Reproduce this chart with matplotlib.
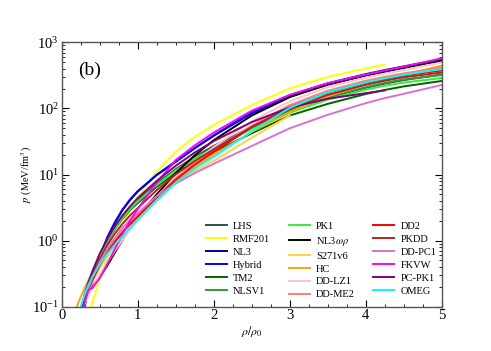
import numpy as np
import matplotlib
matplotlib.use("Agg")
import matplotlib.pyplot as plt
from matplotlib.ticker import MultipleLocator, LogLocator, NullFormatter

nan = np.nan

# density grid (rho / rho0) shared by all models
rho = [0.2, 0.25, 0.3, 0.35, 0.4, 0.5, 0.6, 0.7, 0.8, 0.9, 1.0, 1.25, 1.5, 1.75,
       2.0, 2.5, 3.0, 3.5, 4.0, 4.25, 4.5, 5.0]

# pressure in MeV/fm^3
p_lhs     = [nan, 0.09, 0.15, 0.23, 0.33, 0.62, 1.03, 1.6, 2.3, 3.15, 4.1, 7.3, 12.0, 18.5, 27, 52, 92, 145, 205, 237, 268, 325]
p_rmf201  = [nan, nan, nan, 0.07, 0.11, 0.26, 0.55, 1.02, 1.75, 2.9, 4.5, 11.0, 22.0, 37.0, 56, 112, 200, 300, 400, 460, nan, nan]
p_nl3     = [nan, 0.06, 0.10, 0.17, 0.27, 0.56, 1.1, 1.85, 2.9, 4.1, 5.5, 9.8, 15.5, 25.0, 39, 88, 158, 240, 330, 380, 432, 555]
p_hybrid  = [nan, 0.063, 0.105, 0.174, 0.275, 0.575, 1.12, 1.9, 2.95, 4.2, 5.6, 9.9, 15.8, 25.0, 38.5, 84, 151, 229, 316, 363, 417, 545]
p_tm2     = [nan, 0.08, 0.135, 0.21, 0.30, 0.57, 0.97, 1.5, 2.15, 2.9, 3.7, 6.5, 10.5, 15.5, 22, 42, 78, 117, 165, 190, 215, 260]
p_nlsv1   = [nan, 0.08, 0.135, 0.21, 0.30, 0.56, 0.95, 1.5, 2.2, 3.0, 3.9, 7.0, 11.5, 17.5, 25, 50, 90, 145, 210, 243, 275, 320]
p_pk1     = [nan, 0.085, 0.14, 0.22, 0.31, 0.58, 0.98, 1.52, 2.2, 3.0, 3.9, 6.9, 11.5, 17.5, 25, 49, 86, 136, 192, 220, 246, 288]
p_nl3wr   = [nan, 0.08, 0.13, 0.17, 0.20, 0.28, 0.42, 0.66, 1.02, 1.55, 2.25, 5.0, 10.5, 19.5, 33, 78, 148, 230, 315, 360, 410, 527]
p_s271v6  = [nan, 0.075, 0.12, 0.17, 0.23, 0.38, 0.58, 0.83, 1.13, 1.55, 2.2, 4.3, 7.6, 11.3, 16, 36, 78, nan, nan, nan, nan, nan]
p_hc      = [0.10, 0.14, 0.19, 0.25, 0.32, 0.48, 0.70, 0.98, 1.35, 1.8, 2.35, 4.4, 7.8, 12.8, 20, 44, 88, 152, 230, 275, 322, 445]
p_ddlz1   = [nan, 0.07, 0.11, 0.15, 0.19, 0.30, 0.46, 0.70, 1.02, 1.45, 2.0, 4.3, 8.6, 15.5, 26, 64, 128, 210, 292, 335, 380, 495]
p_ddme2   = [nan, 0.07, 0.115, 0.17, 0.24, 0.42, 0.66, 0.97, 1.36, 1.83, 2.4, 4.7, 8.8, 15.0, 24, 55, 112, 185, 262, 300, 338, 416]
p_dd2     = [nan, 0.075, 0.12, 0.18, 0.25, 0.43, 0.66, 0.96, 1.33, 1.78, 2.3, 4.5, 8.3, 14.0, 22, 52, 104, 172, 245, 280, 315, 374]
p_pkdd    = [nan, 0.085, 0.14, 0.21, 0.29, 0.52, 0.85, 1.28, 1.8, 2.4, 3.1, 5.8, 10.0, 16.0, 24, 52, 98, 160, 228, 262, 296, 349]
p_ddpc1   = [nan, 0.08, 0.13, 0.19, 0.27, 0.47, 0.75, 1.1, 1.55, 2.05, 2.6, 4.7, 7.3, 10.5, 14.5, 27, 50, 80, 120, 143, 166, 226]
p_fkvw    = [nan, 0.06, 0.12, 0.18, 0.19, 0.27, 0.44, 0.75, 1.25, 2.0, 3.0, 7.5, 16.5, 27.5, 43, 92, 160, 240, 325, 375, 428, 573]
p_pcpk1   = [nan, 0.085, 0.145, 0.23, 0.33, 0.63, 1.05, 1.65, 2.4, 3.3, 4.4, 8.0, 13.5, 21.5, 32, 62, 103, 140, 170, 187, nan, nan]
p_omeg    = [0.065, 0.10, 0.15, 0.21, 0.28, 0.44, 0.63, 0.87, 1.15, 1.55, 2.05, 4.0, 7.5, 12.2, 18.5, 45, 102, 175, 248, 285, 322, 394]

labels = ['LHS', 'RMF201', 'NL3', 'Hybrid', 'TM2', 'NLSV1',
          'PK1', r'NL3$\omega\rho$', 'S271v6', 'HC', 'DD-LZ1', 'DD-ME2',
          'DD2', 'PKDD', 'DD-PC1', 'FKVW', 'PC-PK1', 'OMEG']
colors = ['#2f4f4f', '#ffff00', '#00008b', '#0000ff', '#006400', '#339933',
          '#33ee33', '#000000', '#ffd23f', '#ffa500', '#ffc0cb', '#fa8072',
          '#ff0000', '#b22222', '#da70d6', '#ff00ff', '#800080', '#00ffff']
pressures = [p_lhs, p_rmf201, p_nl3, p_hybrid, p_tm2, p_nlsv1,
             p_pk1, p_nl3wr, p_s271v6, p_hc, p_ddlz1, p_ddme2,
             p_dd2, p_pkdd, p_ddpc1, p_fkvw, p_pcpk1, p_omeg]

plt.rcParams['font.family'] = ['Liberation Serif', 'DejaVu Serif']
plt.rcParams['mathtext.fontset'] = 'stix'

fig = plt.figure(figsize=(4.91, 3.51), dpi=100)
ax = fig.add_axes([61.7 / 491, 1 - 306.7 / 351, 380 / 491, 264.4 / 351])

for lab, col, p in zip(labels, colors, pressures):
    ax.plot(rho, p, color=col, lw=1.4, label=lab)

ax.set_yscale('log')
ax.set_xlim(0, 5)
ax.set_ylim(0.1, 1000)
ax.xaxis.set_major_locator(MultipleLocator(1))
ax.xaxis.set_minor_locator(MultipleLocator(0.25))
ax.yaxis.set_major_locator(LogLocator(base=10, numticks=10))
ax.yaxis.set_minor_locator(LogLocator(base=10, subs=np.arange(2, 10), numticks=10))
ax.yaxis.set_minor_formatter(NullFormatter())
ax.tick_params(which='both', direction='in', top=True, right=True, labelsize=10.5, pad=2)
ax.tick_params(which='major', length=5, width=0.8)
ax.tick_params(which='minor', length=2.5, width=0.6)
for s in ax.spines.values():
    s.set_color('#555555')
    s.set_linewidth(1.0)

ax.set_xlabel(r'$\rho/\rho_0$', fontsize=8.5, labelpad=1)
ax.set_ylabel(r'$p$ (MeV/fm$^3$)', fontsize=7.5)
ax.yaxis.set_label_coords(-0.072, 0.5)
ax.text(0.043, 0.895, '(b)', transform=ax.transAxes, fontsize=14, va='center')

ax.legend(ncol=3, frameon=False, fontsize=7.5, handlelength=2.0,
          labelspacing=0.35, columnspacing=1.8, handletextpad=0.6,
          loc='lower left', bbox_to_anchor=(0.36, 0.0), borderaxespad=0.3)

fig.savefig('out.png', dpi=100)
